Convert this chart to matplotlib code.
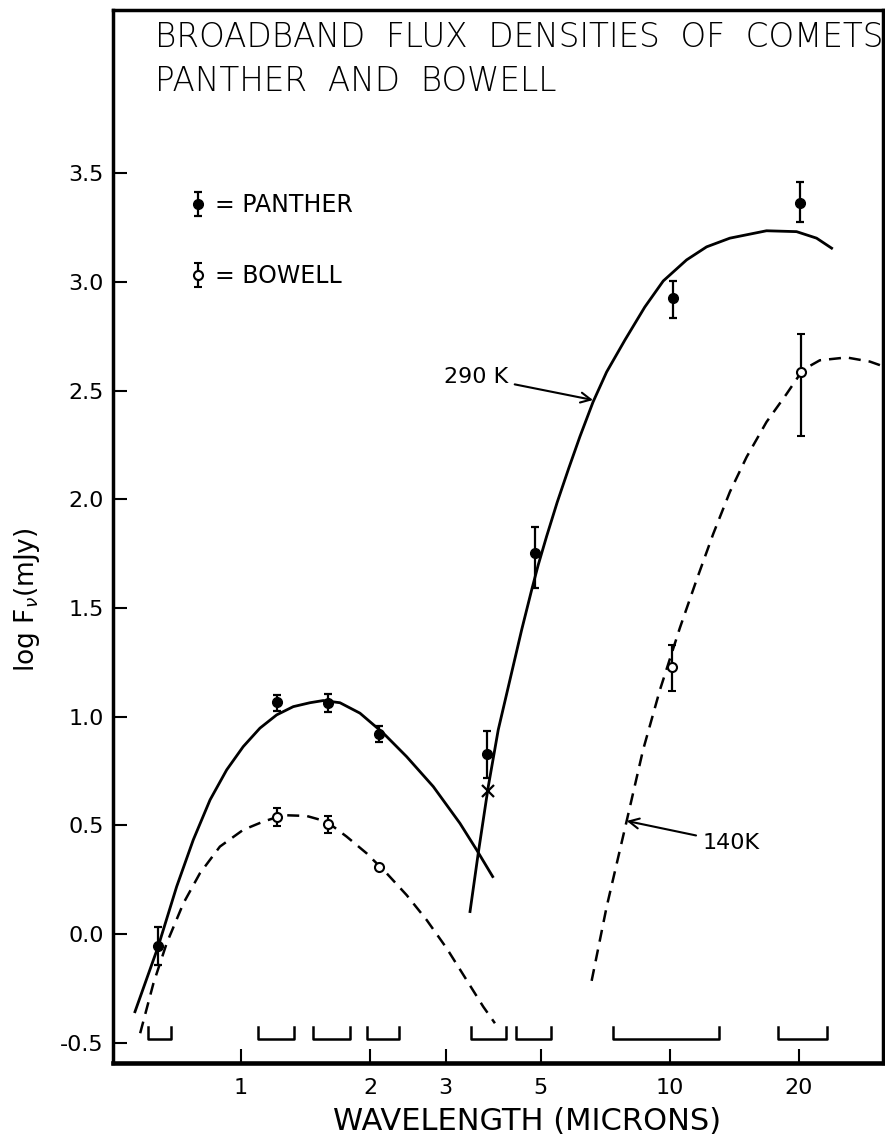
import numpy as np
import matplotlib
matplotlib.use("Agg")
import matplotlib.pyplot as plt
from matplotlib.ticker import NullLocator

plt.rcParams['font.family'] = ['DejaVu Sans']

# measured points (wavelength in microns, log F_nu in mJy)
panther_wl = [0.641, 1.211, 1.598, 2.101, 3.74, 4.845, 10.15, 20.09]
panther_val = [-0.055, 1.066, 1.062, 0.920, 0.827, 1.752, 2.925, 3.366]
panther_lo = [0.089, 0.038, 0.04, 0.037, 0.11, 0.161, 0.092, 0.088]
panther_hi = [0.086, 0.034, 0.04, 0.037, 0.109, 0.121, 0.081, 0.093]

bowell_wl = [1.211, 1.598, 2.101, 10.09, 20.2]
bowell_val = [0.540, 0.505, 0.310, 1.227, 2.586]
bowell_lo = [0.043, 0.04, np.nan, 0.111, 0.295]
bowell_hi = [0.041, 0.04, np.nan, 0.102, 0.174]

cross_wl = [3.76]
cross_val = [0.658]

# solid curves (Panther)
hot_near_wl = [0.566, 0.641, 0.708, 0.774, 0.847, 0.926, 1.012, 1.107, 1.211, 1.324,
               1.448, 1.555, 1.701, 1.894, 2.147, 2.433, 2.808, 3.240, 3.543, 3.862]
hot_near_val = [-0.358, -0.058, 0.218, 0.433, 0.617, 0.755, 0.862, 0.947, 1.008, 1.046,
                1.064, 1.074, 1.064, 1.016, 0.924, 0.816, 0.678, 0.509, 0.387, 0.264]
hot_far_wl = [3.42, 3.574, 3.772, 3.979, 4.237, 4.512, 4.761, 4.932, 5.16, 5.46,
              5.81, 6.17, 6.62, 7.12, 7.86, 8.74, 9.65, 10.94, 12.18, 13.80,
              16.80, 19.74, 21.98, 23.83]
hot_far_val = [0.103, 0.371, 0.678, 0.939, 1.169, 1.399, 1.583, 1.698, 1.830, 1.986,
               2.143, 2.289, 2.448, 2.586, 2.734, 2.885, 3.005, 3.102, 3.162, 3.202,
               3.236, 3.232, 3.202, 3.156]

# dashed curves (Bowell)
cool_near_wl = [0.582, 0.625, 0.671, 0.734, 0.802, 0.893, 1.012, 1.127, 1.211, 1.278,
                1.422, 1.584, 1.763, 1.963, 2.186, 2.433, 2.710, 3.017, 3.357, 3.672, 3.909]
cool_near_val = [-0.457, -0.227, -0.043, 0.141, 0.279, 0.402, 0.479, 0.517, 0.537, 0.546,
                 0.543, 0.517, 0.448, 0.371, 0.279, 0.179, 0.064, -0.066, -0.212, -0.335, -0.411]
cool_far_wl = [6.57, 7.12, 7.93, 8.66, 9.48, 10.55, 11.54, 12.62, 13.80, 15.10,
               16.80, 18.71, 20.20, 21.20, 22.37, 25.82, 29.26, 31.15]
cool_far_val = [-0.216, 0.124, 0.520, 0.847, 1.123, 1.408, 1.629, 1.841, 2.034, 2.195,
                2.356, 2.485, 2.582, 2.614, 2.640, 2.653, 2.634, 2.615]

# filter bandpasses
band_lo = [0.606, 1.094, 1.475, 1.963, 3.431, 4.385, 7.36, 17.87]
band_hi = [0.687, 1.331, 1.796, 2.339, 4.147, 5.277, 13.01, 23.19]

xtick_vals = [1, 2, 3, 5, 10, 20]
xtick_labels = ['1', '2', '3', '5', '10', '20']
ytick_vals = [-0.5, 0.0, 0.5, 1.0, 1.5, 2.0, 2.5, 3.0, 3.5]
ytick_labels = ['-0.5', '0.0', '0.5', '1.0', '1.5', '2.0', '2.5', '3.0', '3.5']

fig = plt.figure(figsize=(8.85, 11.36), dpi=100)
ax = fig.add_axes([113 / 885, 73 / 1136, 770 / 885, 1053 / 1136])
ax.set_xscale('log')
ax.set_xlim(0.503, 31.4)
ax.set_ylim(-0.594, 4.252)

dash = (0, (4.8, 3.2))
ax.plot(hot_near_wl, hot_near_val, color='k', lw=2)
ax.plot(hot_far_wl, hot_far_val, color='k', lw=2)
ax.plot(cool_near_wl, cool_near_val, color='k', lw=1.8, linestyle=dash)
ax.plot(cool_far_wl, cool_far_val, color='k', lw=1.8, linestyle=dash)

for lo, hi in zip(band_lo, band_hi):
    ax.plot([lo, lo, hi, hi], [-0.427, -0.483, -0.483, -0.427], color='k', lw=1.8)

h_p = ax.errorbar(panther_wl, panther_val, yerr=[panther_lo, panther_hi], fmt='o',
                  color='k', ms=7, capsize=3, elinewidth=1.6, capthick=1.6, zorder=4)
h_b = ax.errorbar(bowell_wl, bowell_val, yerr=[bowell_lo, bowell_hi], fmt='o', color='k',
                  mfc='white', mec='k', mew=1.5, ms=6.5, capsize=3,
                  elinewidth=1.6, capthick=1.6, zorder=4)
ax.plot(cross_wl, cross_val, 'x', color='k', ms=8, mew=1.6, zorder=4)

ax.legend([h_p, h_b], ['= PANTHER', '= BOWELL'], loc='upper left',
          bbox_to_anchor=(0.0957, 0.826), frameon=False, fontsize=17,
          borderpad=0, borderaxespad=0, handlelength=1.0, handletextpad=0.2,
          labelspacing=2.0, numpoints=1)

ax.annotate('290 K', xy=(6.62, 2.457), xytext=(4.19, 2.565), ha='right', va='center',
            fontsize=16, arrowprops=dict(arrowstyle='->', lw=1.5, color='k',
                                         shrinkA=3, shrinkB=0, mutation_scale=18))
ax.annotate('140K', xy=(7.93, 0.52), xytext=(11.94, 0.419), ha='left', va='center',
            fontsize=16, arrowprops=dict(arrowstyle='->', lw=1.5, color='k',
                                         shrinkA=3, shrinkB=0, mutation_scale=18))

ax.text(0.0545, 0.974, 'BROADBAND  FLUX  DENSITIES  OF  COMETS', transform=ax.transAxes,
        fontsize=23.5, ha='left', va='center', fontweight='light')
ax.text(0.0545, 0.932, 'PANTHER  AND  BOWELL', transform=ax.transAxes,
        fontsize=23.5, ha='left', va='center', fontweight='light')

ax.set_xticks(xtick_vals)
ax.set_xticklabels(xtick_labels, fontsize=16)
ax.xaxis.set_minor_locator(NullLocator())
ax.set_yticks(ytick_vals)
ax.set_yticklabels(ytick_labels, fontsize=16)
ax.tick_params(axis='x', direction='in', length=10, width=1.5, pad=11, top=False)
ax.tick_params(axis='y', direction='in', length=10, width=1.5, pad=6.5, right=False)

for side in ['left', 'top', 'right']:
    ax.spines[side].set_linewidth(2.5)
ax.spines['bottom'].set_linewidth(3.3)

ax.set_xlabel('WAVELENGTH (MICRONS)', fontsize=22)
ax.xaxis.set_label_coords(0.538, -0.042)
ax.set_ylabel('log F$_{\\nu}$(mJy)', fontsize=19)
ax.yaxis.set_label_coords(-0.092, 0.44)

fig.savefig('out.png', dpi=100)
